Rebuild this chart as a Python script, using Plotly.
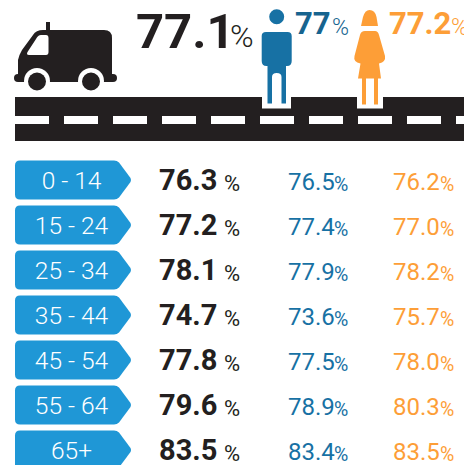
import plotly.graph_objects as go

age_groups = ["0 - 14", "15 - 24", "25 - 34", "35 - 44", "45 - 54", "55 - 64", "65+"]
total_values = [76.3, 77.2, 78.1, 74.7, 77.8, 79.6, 83.5]
male_values = [76.5, 77.4, 77.9, 73.6, 77.5, 78.9, 83.4]
female_values = [76.2, 77.0, 78.2, 75.7, 78.0, 80.3, 83.5]
overall_total = "77.1"
overall_male = "77"
overall_female = "77.2"

DARK = "#231F20"
BLUE = "#1771A4"
ORANGE = "#FD9E37"
BADGE = "#1F97D6"
FONT = "Roboto"

row_y = [180 + 45 * i for i in range(len(age_groups))]
text_y = [y + 3 for y in row_y]
shapes = []


def rect(x0, y0, x1, y1, color):
    shapes.append(dict(type="rect", x0=x0, x1=x1, y0=y0, y1=y1, fillcolor=color, line_width=0, layer="below"))


def circle(cx, cy, r, color):
    shapes.append(dict(type="circle", x0=cx - r, x1=cx + r, y0=cy - r, y1=cy + r, fillcolor=color, line_width=0, layer="below"))


def path(d, color):
    shapes.append(dict(type="path", path=d, fillcolor=color, line_width=0, layer="below"))


# Road
rect(15, 97, 464, 141, DARK)
rect(262, 97, 291, 108.5, "white")
rect(357, 97, 383, 108.5, "white")
for k in range(10):
    rect(15 + 49 * k if k else 15, 116, min(49 + 49 * k, 464), 124, "white")

# Van
path("M18 78 L18 60 Q19 55 22 50 L33 35 Q36 30 43 30 L104 30 Q112 30 112 38 L112 72 L112 81 L18 81 Z", DARK)
path("M18 74 L113 74 Q117 74 117 78 Q117 82 113 82 L18 82 Q14 82 14 78 Q14 74 18 74 Z", DARK)
rect(46, 22, 50, 30, DARK)
path("M41 35 L46 35 Q48.5 35 48.5 38 L48.5 52 Q48.5 55 46 55 L29 55 Q26 55 27.5 52 L36 39 Q38 35 41 35 Z", "white")
for cx in (37, 91):
    rect(cx - 13, 82, cx + 13, 95, "white")
    circle(cx, 81, 13, "white")
    circle(cx, 81.5, 9, DARK)

# Man
circle(276.7, 16.7, 7.5, BLUE)
path("M266 32 L287.5 32 Q291.7 32 291.7 36 L291.7 61 Q291.7 66 287 66 L286 66 L286 103.5 L281.5 103.5 L281.5 77 "
     "Q281.5 73 276.7 73 Q272 73 272 77 L272 103.5 L267.5 103.5 L267.5 66 L266.5 66 Q261.7 66 261.7 61 L261.7 36 Q261.7 32 266 32 Z", BLUE)

# Woman
path("M361 26 L363 17 Q365 10 369.5 10 Q375 10 376.5 17 L378 26 Z", ORANGE)
path("M365 31 L375 31 Q378 31 379 35 L385 56 Q386 62 379 63.5 L381 78.5 L358 78.5 L360.5 63.5 Q353 62 354.5 56 L360 35 Q361 31 365 31 Z", ORANGE)
rect(362, 78, 366, 104.5, ORANGE)
rect(374, 78, 378, 104.5, ORANGE)

# Age badges
for y in row_y:
    t, b = y - 19.5, y + 19.5
    path(f"M20 {t} L114 {t} Q117 {t} 119 {t + 2} L130.5 {y - 2} Q131.5 {y} 130.5 {y + 2} L119 {b - 2} Q117 {b} 114 {b} "
         f"L20 {b} Q15 {b} 15 {b - 5} L15 {t + 5} Q15 {t} 20 {t} Z", BADGE)

fig = go.Figure()


def add_text(x, y, text, color, size, position="middle right", weight=400):
    fig.add_trace(go.Scatter(
        x=x, y=y, mode="text", text=text, textposition=position,
        textfont=dict(family=FONT, size=size, color=color, weight=weight),
        hoverinfo="skip", showlegend=False, cliponaxis=True,
    ))


n = len(age_groups)
add_text([71.5] * n, text_y, age_groups, "white", 24.5, "middle center", 300)

add_text([159] * n, text_y, [f"{v:.1f}" for v in total_values], DARK, 29, weight=700)
add_text([224] * n, [y + 2 for y in text_y], ["%"] * n, DARK, 22, weight=400)

add_text([288] * n, [y + 1 for y in text_y], [f"{v:.1f}" for v in male_values], BLUE, 24)
add_text([334] * n, [y + 3 for y in text_y], ["%"] * n, BLUE, 19.5, weight=400)

add_text([393] * n, [y + 1 for y in text_y], [f"{v:.1f}" for v in female_values], ORANGE, 24)
add_text([440] * n, [y + 3 for y in text_y], ["%"] * n, ORANGE, 19.5, weight=400)

add_text([136], [36], [overall_total], DARK, 49, weight=700)
add_text([230], [39], ["%"], DARK, 32, weight=300)
add_text([295], [26], [overall_male], "#17648F", 31, weight=700)
add_text([332], [29], ["%"], "#17648F", 23, weight=300)
add_text([389], [26], [overall_female], ORANGE, 31, weight=700)
add_text([451], [29], ["%"], ORANGE, 23, weight=300)

fig.update_layout(
    width=464, height=465, margin=dict(l=0, r=0, t=0, b=0),
    paper_bgcolor="white", plot_bgcolor="white", shapes=shapes,
    xaxis=dict(range=[0, 464], visible=False, fixedrange=True),
    yaxis=dict(range=[465, 0], visible=False, fixedrange=True),
)
fig.write_html("out.html", config=dict(displayModeBar=False),
               post_script="document.body.style.margin='0';document.body.style.overflow='hidden';")
